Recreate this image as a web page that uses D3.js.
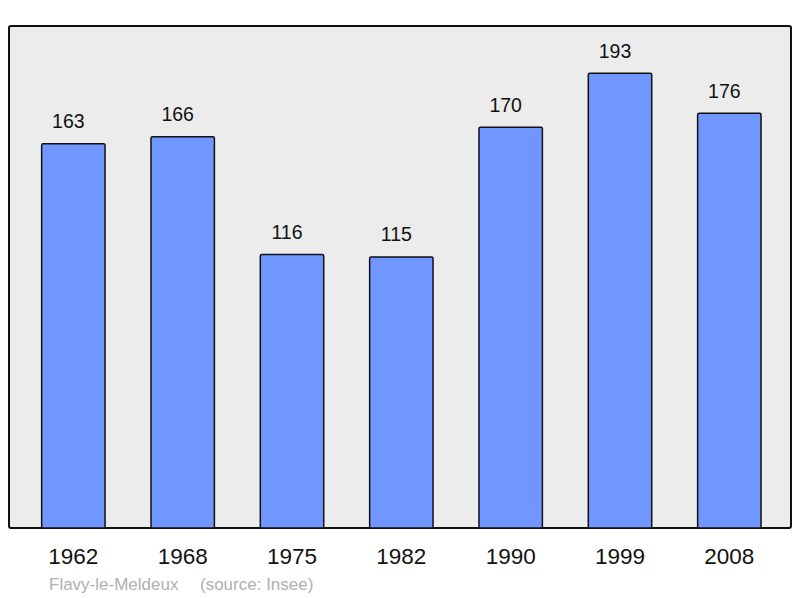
<!DOCTYPE html>
<html>
<head>
<meta charset="utf-8">
<script src="https://cdn.jsdelivr.net/npm/d3@7"></script>
<style>
    body { margin: 0; background: #fff; }
    svg { display: block; }
</style>
</head>
<body>
<div id="chart"></div>
<script>
    // population by census year
    var years = ["1962", "1968", "1975", "1982", "1990", "1999", "2008"];
    var population = [163, 166, 116, 115, 170, 193, 176];
    var commune = "Flavy-le-Meldeux";
    var source = "(source: Insee)";

    var width = 800, height = 598;
    var frame = {left: 9, top: 26, right: 791, bottom: 528};

    var svg = d3.select("#chart").append("svg")
        .attr("width", width)
        .attr("height", height);

    svg.append("rect")
        .attr("x", frame.left)
        .attr("y", frame.top)
        .attr("width", frame.right - frame.left)
        .attr("height", frame.bottom - frame.top)
        .attr("rx", 2)
        .attr("fill", "#ececec")
        .attr("stroke", "#111")
        .attr("stroke-width", 2);

    var x = d3.scaleBand()
        .domain(years)
        .range([18.7, 784])
        .paddingInner(0.42)
        .paddingOuter(0.21);

    var y = d3.scaleLinear()
        .domain([0, 213])
        .range([frame.bottom, frame.top]);

    svg.selectAll("rect.bar")
        .data(population)
        .enter()
        .append("rect")
        .attr("class", "bar")
        .attr("x", function (d, i) { return x(years[i]); })
        .attr("y", function (d) { return y(d); })
        .attr("width", x.bandwidth())
        .attr("height", function (d) { return frame.bottom - y(d); })
        .attr("rx", 1.5)
        .attr("fill", "#7097ff")
        .attr("stroke", "#111")
        .attr("stroke-width", 1.5);

    svg.selectAll("text.value")
        .data(population)
        .enter()
        .append("text")
        .attr("class", "value")
        .attr("x", function (d, i) { return x(years[i]) + x.bandwidth() / 2 - 5; })
        .attr("y", function (d) { return y(d) - 15.5; })
        .attr("text-anchor", "middle")
        .attr("font-family", "Liberation Sans, Arial, sans-serif")
        .attr("font-size", "19.5px")
        .attr("fill", "#111")
        .text(function (d) { return d; });

    // year labels under the frame
    var xAxis = d3.axisBottom(x).tickSize(0).tickPadding(0);
    var axisG = svg.append("g")
        .attr("transform", "translate(0," + 564 + ")")
        .call(xAxis);
    axisG.select(".domain").remove();
    axisG.selectAll("text")
        .attr("dy", 0)
        .attr("y", 0)
        .attr("font-family", "Liberation Sans, Arial, sans-serif")
        .attr("font-size", "22.5px")
        .attr("fill", "#111");

    svg.append("text")
        .attr("x", 49)
        .attr("y", 590)
        .attr("font-family", "Liberation Sans, Arial, sans-serif")
        .attr("font-size", "17px")
        .attr("fill", "#b0b0b0")
        .text(commune);

    svg.append("text")
        .attr("x", 200)
        .attr("y", 590)
        .attr("font-family", "Liberation Sans, Arial, sans-serif")
        .attr("font-size", "17px")
        .attr("fill", "#b0b0b0")
        .text(source);
</script>
</body>
</html>
